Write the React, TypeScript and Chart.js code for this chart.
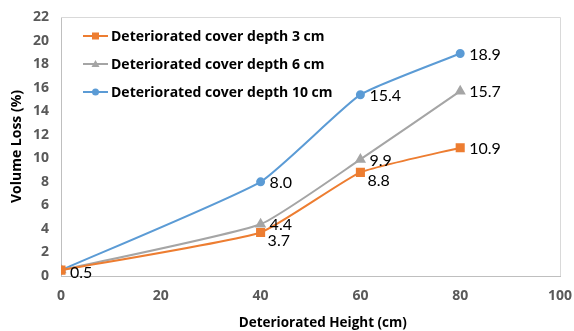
import React, { useEffect, useRef } from "react";
import { Chart, registerables } from "chart.js";

Chart.register(...registerables);

const heights = [0, 40, 60, 80];
const seriesNames = [
  "Deteriorated cover depth 3 cm",
  "Deteriorated cover depth 6 cm",
  "Deteriorated cover depth 10 cm",
];
const loss3cm = [0.5, 3.7, 8.8, 10.9];
const loss6cm = [0.5, 4.4, 9.9, 15.7];
const loss10cm = [0.5, 8.0, 15.4, 18.9];
const labelAlign3cm = ["right", "below", "below", "right"];
const labelAlign6cm = ["right", "right", "right", "right"];
const labelAlign10cm = ["right", "right", "right", "right"];
const xTicks = [0, 20, 40, 60, 80, 100];
const yMax = 22;
const xTitle = "Deteriorated Height (cm)";
const yTitle = "Volume Loss (%)";

const colors = ["#ED7D31", "#A5A5A5", "#5B9BD5"];
const pointStyles = ["rect", "triangle", "circle"];
const pointRadii = [5, 4.5, 3.5];

const FONT = "Lato, 'Liberation Sans', sans-serif";
const BOLD_FONT = "'Open Sans', 'Liberation Sans', sans-serif";

const borderPlugin = {
  id: "plotBorder",
  beforeDatasetsDraw(chart: any) {
    const { ctx, chartArea } = chart;
    ctx.save();
    ctx.strokeStyle = "#D9D9D9";
    ctx.lineWidth = 1;
    ctx.beginPath();
    ctx.moveTo(chartArea.left, chartArea.top + 0.5);
    ctx.lineTo(chartArea.right + 0.5, chartArea.top + 0.5);
    ctx.lineTo(chartArea.right + 0.5, chartArea.bottom);
    ctx.stroke();
    ctx.restore();
  },
};

const labelPlugin = {
  id: "valueLabels",
  afterDatasetsDraw(chart: any) {
    const { ctx } = chart;
    const seen = new Set<string>();
    ctx.save();
    ctx.font = `16px ${FONT}`;
    ctx.fillStyle = "#000";
    ctx.textBaseline = "middle";
    ctx.textAlign = "left";
    chart.data.datasets.forEach((ds: any, di: number) => {
      const meta = chart.getDatasetMeta(di);
      meta.data.forEach((pt: any, i: number) => {
        const v = ds.data[i].y;
        const text = Number(v).toFixed(1);
        const key = `${heights[i]}-${text}`;
        if (seen.has(key)) return;
        seen.add(key);
        const align = ds.labelAlign[i];
        let dx = 9;
        let dy = 1;
        if (align === "below") {
          dx = 7;
          dy = 8;
        }
        if (heights[i] === 0) dy = 3;
        ctx.fillText(text, pt.x + dx, pt.y + dy);
      });
    });
    ctx.restore();
  },
};

const legendPlugin = {
  id: "insideLegend",
  afterDraw(chart: any) {
    const { ctx } = chart;
    ctx.save();
    const x0 = 83;
    const rows = [36, 64, 92];
    chart.data.datasets.forEach((ds: any, di: number) => {
      const y = rows[di];
      ctx.strokeStyle = ds.borderColor;
      ctx.lineWidth = 2;
      ctx.beginPath();
      ctx.moveTo(x0, y);
      ctx.lineTo(x0 + 25, y);
      ctx.stroke();
      ctx.fillStyle = ds.borderColor;
      const cx = x0 + 12.5;
      if (ds.pointStyle === "rect") {
        ctx.fillRect(cx - 3.5, y - 3.5, 7, 7);
      } else if (ds.pointStyle === "triangle") {
        ctx.beginPath();
        ctx.moveTo(cx, y - 4);
        ctx.lineTo(cx + 4, y + 3);
        ctx.lineTo(cx - 4, y + 3);
        ctx.closePath();
        ctx.fill();
      } else {
        ctx.beginPath();
        ctx.arc(cx, y, 3.5, 0, Math.PI * 2);
        ctx.fill();
      }
      ctx.fillStyle = "#000";
      ctx.font = `bold 14px ${BOLD_FONT}`;
      ctx.textBaseline = "middle";
      ctx.textAlign = "left";
      ctx.fillText(ds.label, x0 + 28, y + 1);
    });
    ctx.restore();
  },
};

export default function App() {
  const ref = useRef<HTMLCanvasElement | null>(null);
  useEffect(() => {
    if (!ref.current) return;
    const allData = [loss3cm, loss6cm, loss10cm];
    const aligns = [labelAlign3cm, labelAlign6cm, labelAlign10cm];
    const chart = new Chart(ref.current, {
      type: "line",
      data: {
        datasets: allData.map((vals, di) => ({
          label: seriesNames[di],
          data: vals.map((v, i) => ({ x: heights[i], y: v })) as any,
          borderColor: colors[di],
          backgroundColor: colors[di],
          pointStyle: pointStyles[di] as any,
          pointRadius: pointRadii[di],
          pointHoverRadius: pointRadii[di],
          borderWidth: 2,
          tension: 0.15,
          fill: false,
          labelAlign: aligns[di],
        })) as any,
      },
      options: {
        animation: false,
        responsive: true,
        maintainAspectRatio: false,
        layout: { padding: { left: 9, right: 0, top: 0, bottom: 0 }, autoPadding: false },
        plugins: {
          legend: { display: false },
          tooltip: { enabled: false },
        },
        elements: { point: { borderWidth: 0 } },
        scales: {
          x: {
            type: "linear",
            min: 0,
            max: 100,
            afterBuildTicks(axis: any) {
              axis.ticks = xTicks.map((v) => ({ value: v }));
            },
            afterFit(axis: any) {
              axis.height = 55;
              axis.paddingRight = 14;
              axis.paddingLeft = 0;
            },
            grid: { display: false, drawTicks: false },
            border: { display: true, color: "#BFBFBF", width: 1 },
            ticks: {
              padding: 12,
              color: "#595959",
              font: { family: BOLD_FONT, size: 14, weight: "bold" },
              maxRotation: 0,
            },
            title: {
              display: true,
              text: "\u00a0\u00a0\u00a0\u00a0\u00a0\u00a0\u00a0" + xTitle,
              color: "#000",
              font: { family: BOLD_FONT, size: 13.5, weight: "bold" },
              padding: { top: 0, bottom: 0 },
            },
          },
          y: {
            min: 0,
            max: yMax,
            ticks: {
              stepSize: 2,
              padding: 12,
              color: "#595959",
              font: { family: BOLD_FONT, size: 14, weight: "bold" },
            },
            afterFit(axis: any) {
              axis.width = 52;
              axis.paddingTop = 17;
              axis.paddingBottom = 0;
            },
            grid: { display: false, drawTicks: false },
            border: { display: true, color: "#BFBFBF", width: 1 },
            title: {
              display: true,
              text: yTitle,
              color: "#000",
              font: { family: BOLD_FONT, size: 14, weight: "bold" },
              padding: { top: 0, bottom: 0 },
            },
          },
        },
      },
      plugins: [borderPlugin, labelPlugin, legendPlugin],
    });
    return () => chart.destroy();
  }, []);
  return (
    <div style={{ position: "absolute", left: 0, top: 0, width: 574, height: 331 }}>
      <canvas ref={ref} />
    </div>
  );
}
